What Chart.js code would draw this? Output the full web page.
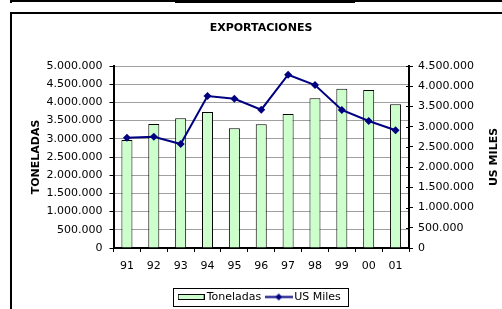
<!DOCTYPE html>
<html>
<head>
<meta charset="utf-8">
<script src="https://cdn.jsdelivr.net/npm/chart.js@4.4.0/dist/chart.umd.min.js"></script>
<style>
  html, body { margin: 0; padding: 0; background: #fff; }
  #wrap { width: 502px; height: 309px; position: relative; }
</style>
</head>
<body>
<div id="wrap"><canvas id="expChart"></canvas></div>
<script>
// Values
const years = ['91', '92', '93', '94', '95', '96', '97', '98', '99', '00', '01'];
const toneladas = [2967000, 3407000, 3563000, 3736000, 3288000, 3398000, 3681000, 4113000, 4376000, 4341000, 3948000];
const usMiles = [2727000, 2752000, 2571000, 3758000, 3691000, 3420000, 4285000, 4030000, 3412000, 3140000, 2910000];
const leftTicksMax = 5000000;
const rightTicksMax = 4500000;
const tickStep = 500000;

const FONT = 'DejaVu Sans';
const NAVY = '#000080';
const GREEN = '#ccffcc';

function fmt(v) {
    return String(Math.round(v)).replace(/\B(?=(\d{3})+(?!\d))/g, '.');
}

// legend swatches drawn as small canvases
function makeBarSwatch() {
    const c = document.createElement('canvas');
    c.width = 27; c.height = 8;
    const g = c.getContext('2d');
    g.fillStyle = GREEN;
    g.fillRect(1, 1, 25, 6);
    g.strokeStyle = '#000';
    g.lineWidth = 1;
    g.strokeRect(0.5, 1.5, 26, 5);
    return c;
}

function makeLineSwatch() {
    const c = document.createElement('canvas');
    c.width = 28; c.height = 9;
    const g = c.getContext('2d');
    g.strokeStyle = NAVY;
    g.lineWidth = 2;
    g.beginPath();
    g.moveTo(0, 4.5);
    g.lineTo(28, 4.5);
    g.stroke();
    g.fillStyle = NAVY;
    g.beginPath();
    g.moveTo(14, 1);
    g.lineTo(17.5, 4.5);
    g.lineTo(14, 8);
    g.lineTo(10.5, 4.5);
    g.closePath();
    g.fill();
    return c;
}

const barSwatch = makeBarSwatch();
const lineSwatch = makeLineSwatch();

// frames, inner tick marks, right axis title and legend border
const decorations = {
    id: 'decorations',
    beforeDraw(chart) {
        const ctx = chart.ctx;
        ctx.save();
        ctx.fillStyle = '#fff';
        ctx.fillRect(0, 0, chart.width, chart.height);
        ctx.fillStyle = '#000';
        ctx.fillRect(10, 0, 492, 2);
        ctx.fillRect(10, 0, 2, 3);
        ctx.fillRect(175, 0, 180, 3);
        ctx.strokeStyle = '#000';
        ctx.lineWidth = 2;
        ctx.strokeRect(11, 13, 520, 320);
        ctx.restore();
    },
    afterDraw(chart) {
        const ctx = chart.ctx;
        const y1 = chart.scales.y1;
        const area = chart.chartArea;
        ctx.save();
        ctx.strokeStyle = '#000';
        ctx.lineWidth = 1;
        y1.ticks.forEach((t) => {
            const py = Math.round(y1.getPixelForValue(t.value)) + 0.5;
            ctx.beginPath();
            ctx.moveTo(area.right - 3, py);
            ctx.lineTo(area.right, py);
            ctx.stroke();
        });
        ctx.restore();

        ctx.save();
        ctx.fillStyle = '#000';
        ctx.font = 'bold 11px "' + FONT + '"';
        ctx.textAlign = 'center';
        ctx.textBaseline = 'middle';
        ctx.translate(494, (area.top + area.bottom) / 2);
        ctx.rotate(-Math.PI / 2);
        ctx.fillText('US MILES', 0, 0);
        ctx.restore();

        const hb = chart.legend.legendHitBoxes;
        if (hb && hb.length) {
            const first = hb[0];
            const last = hb[hb.length - 1];
            ctx.save();
            ctx.strokeStyle = '#000';
            ctx.lineWidth = 1;
            const l = Math.round(first.left - 8) + 0.5;
            const r = Math.round(last.left + last.width + 7) + 0.5;
            const t = Math.round(first.top - 3.5) + 0.5;
            const b = Math.round(first.top + first.height + 3.5) + 0.5;
            ctx.strokeRect(l, t, r - l, b - t);
            ctx.restore();
        }
    }
};

new Chart(document.getElementById('expChart'), {
    type: 'bar',
    data: {
        labels: years,
        datasets: [{
            type: 'line',
            label: 'US Miles',
            data: usMiles,
            yAxisID: 'y1',
            borderColor: NAVY,
            backgroundColor: NAVY,
            borderWidth: 2,
            pointStyle: 'rectRot',
            pointRadius: 4,
            pointBorderWidth: 0,
            tension: 0,
            order: 0
        }, {
            type: 'bar',
            label: 'Toneladas',
            data: toneladas,
            yAxisID: 'y',
            backgroundColor: GREEN,
            borderColor: '#000',
            borderWidth: 1,
            barPercentage: 0.41,
            categoryPercentage: 1,
            order: 1
        }]
    },
    options: {
        responsive: true,
        maintainAspectRatio: false,
        animation: false,
        layout: {
            padding: { left: 20, right: 0, top: 0, bottom: -3.5 }
        },
        plugins: {
            title: {
                display: true,
                text: 'EXPORTACIONES',
                color: '#000',
                font: { family: FONT, size: 11, weight: 'bold' },
                padding: { top: 21.4, bottom: 31.4 }
            },
            legend: {
                position: 'bottom',
                labels: {
                    usePointStyle: true,
                    pointStyleWidth: 20,
                    padding: 7.5,
                    color: '#000',
                    font: { family: FONT, size: 11 },
                    generateLabels: () => [
                        { text: 'Toneladas', pointStyle: barSwatch, datasetIndex: 1, fontColor: '#000', lineWidth: 0 },
                        { text: 'US Miles', pointStyle: lineSwatch, datasetIndex: 0, fontColor: '#000', lineWidth: 0 }
                    ]
                }
            },
            tooltip: { enabled: false }
        },
        scales: {
            x: {
                afterFit: (scale) => { scale.height = 36; },
                grid: {
                    offset: true,
                    drawOnChartArea: false,
                    tickLength: 4,
                    color: '#000'
                },
                border: { color: '#000', width: 2 },
                ticks: {
                    color: '#000',
                    padding: 8,
                    font: { family: FONT, size: 11 }
                }
            },
            y: {
                position: 'left',
                min: 0,
                max: leftTicksMax,
                afterFit: (scale) => { scale.width = 93.5; },
                ticks: {
                    stepSize: tickStep,
                    color: '#000',
                    padding: 7,
                    font: { family: FONT, size: 11 },
                    callback: (v) => fmt(v)
                },
                grid: {
                    color: '#a0a0a0',
                    tickColor: '#000',
                    tickLength: 4
                },
                border: { color: '#000', width: 2 },
                title: {
                    display: true,
                    text: 'TONELADAS',
                    color: '#000',
                    font: { family: FONT, size: 11, weight: 'bold' },
                    padding: { top: 9.4, bottom: 0 }
                }
            },
            y1: {
                position: 'right',
                min: 0,
                max: rightTicksMax,
                afterFit: (scale) => { scale.width = 93; },
                ticks: {
                    stepSize: tickStep,
                    color: '#000',
                    padding: 5,
                    font: { family: FONT, size: 11 },
                    callback: (v) => fmt(v)
                },
                grid: {
                    drawOnChartArea: false,
                    tickColor: '#000',
                    tickLength: 4
                },
                border: { color: '#000', width: 2 }
            }
        }
    },
    plugins: [decorations]
});
</script>
</body>
</html>
